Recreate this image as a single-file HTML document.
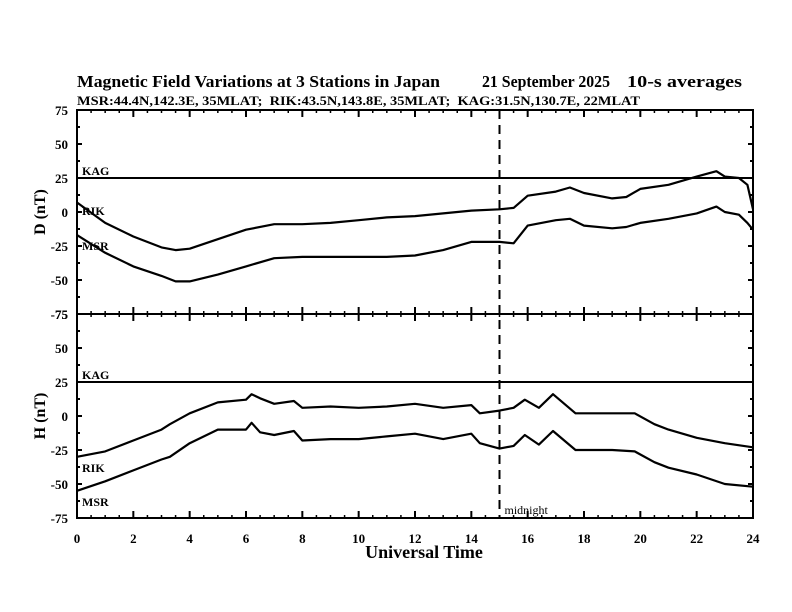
<!DOCTYPE html>
<html><head><meta charset="utf-8"><style>
body{margin:0;background:#fff}
svg{display:block;font-family:"Liberation Serif",serif}
</style></head><body>
<svg id="chart" width="792" height="612" viewBox="0 0 792 612">
<text x="77" y="87" font-size="17" font-weight="bold" textLength="363" lengthAdjust="spacingAndGlyphs">Magnetic Field Variations at 3 Stations in Japan</text>
<text x="482" y="87" font-size="17" font-weight="bold" textLength="128" lengthAdjust="spacingAndGlyphs">21 September 2025</text>
<text x="627" y="87" font-size="17" font-weight="bold" textLength="115" lengthAdjust="spacingAndGlyphs">10-s averages</text>
<text x="77" y="105" font-size="13" font-weight="bold" textLength="563" lengthAdjust="spacingAndGlyphs" style="white-space:pre">MSR:44.4N,142.3E, 35MLAT;  RIK:43.5N,143.8E, 35MLAT;  KAG:31.5N,130.7E, 22MLAT</text>
<g id="plots"></g>
<text x="424" y="558" font-size="18" font-weight="bold" text-anchor="middle">Universal Time</text>
</svg>
<script>
const hoursD=[0,1,2,3,3.5,4,5,6,7,8,9,10,11,12,13,14,15,15.5,16,17,17.5,18,19,19.5,20,21,22,22.7,23,23.5,23.8,24];
const dRIK=[7,-8,-18,-26,-28,-27,-20,-13,-9,-9,-8,-6,-4,-3,-1,1,2,3,12,15,18,14,10,11,17,20,26,30,26,25,20,2];
const dMSR=[-17,-30,-40,-47,-51,-51,-46,-40,-34,-33,-33,-33,-33,-32,-28,-22,-22,-23,-10,-6,-5,-10,-12,-11,-8,-5,-1,4,0,-2,-8,-13];
const hoursH=[0,1,2,3,3.3,4,5,6,6.2,6.5,7,7.7,8,9,10,11,12,13,14,14.3,15,15.5,15.9,16.4,16.9,17.7,18,19,19.8,20.5,21,22,23,24];
const hRIK=[-30,-26,-18,-10,-6,2,10,12,16,13,9,11,6,7,6,7,9,6,8,2,4,6,12,6,16,2,2,2,2,-6,-10,-16,-20,-23];
const hMSR=[-55,-48,-40,-32,-30,-20,-10,-10,-5,-12,-14,-11,-18,-17,-17,-15,-13,-17,-13,-20,-24,-22,-14,-21,-11,-25,-25,-25,-26,-34,-38,-43,-50,-52];
const kagLevel=25;
const xTicks=[0,2,4,6,8,10,12,14,16,18,20,22,24];
const yTicks=[75,50,25,0,-25,-50,-75];
const midnightHour=15;

const NS="http://www.w3.org/2000/svg";
const g=document.getElementById('plots');
const X0=77,X1=753;
const xs=h=>X0+(X1-X0)*h/24;
function mk(t,a,p){const e=document.createElementNS(NS,t);for(const k in a)e.setAttribute(k,a[k]);(p||g).appendChild(e);return e;}
function panel(top,bot,label,hrs,rik,msr,name,kagY,rikLab,msrLab){
  const ys=v=>top+(75-v)/150*(bot-top);
  const pg=mk('g',{});
  
  
  const fr=mk('rect',{x:X0,y:top,width:X1-X0,height:bot-top,fill:'none',stroke:'#000','stroke-width':2},pg);
  
  
  for(let h=0;h<=24;h+=0.5){
    const maj=h%2===0;const L=maj?7:3;
    mk('line',{x1:xs(h),x2:xs(h),y1:top,y2:top+L,stroke:'#000','stroke-width':maj?2:1.5},pg);
    mk('line',{x1:xs(h),x2:xs(h),y1:bot,y2:bot-L,stroke:'#000','stroke-width':maj?2:1.5},pg);
  }
  for(let v=-75;v<=75;v+=12.5){
    const maj=v%25===0;const L=maj?5:3;
    mk('line',{x1:X0,x2:X0+L,y1:ys(v),y2:ys(v),stroke:'#000','stroke-width':2},pg);
    mk('line',{x1:X1,x2:X1-L,y1:ys(v),y2:ys(v),stroke:'#000','stroke-width':2},pg);
  }
  yTicks.forEach(v=>{
    const t=mk('text',{x:X0-9,y:ys(v)+5,'font-size':13,'font-weight':'bold','text-anchor':'end'},pg);
    t.textContent=v;
    
    
  });
  const yl=mk('text',{x:0,y:0,'font-size':16,'font-weight':'bold','text-anchor':'middle',transform:`translate(45,${(top+bot)/2}) rotate(-90)`},pg);
  yl.textContent=label;
  
  
  const kl=mk('line',{x1:X0,x2:X1,y1:ys(kagLevel),y2:ys(kagLevel),stroke:'#000','stroke-width':2},pg);
  
  
  [[rik,'rik'],[msr,'msr']].forEach(([arr,n])=>{
    const d=hrs.map((h,i)=>(i?'L':'M')+xs(h).toFixed(1)+','+ys(arr[i]).toFixed(1)).join(' ');
    const p=mk('path',{d:d,fill:'none',stroke:'#000','stroke-width':2.2,'stroke-linejoin':'round'},pg);
    
    
  });
  [['KAG',ys(kagLevel)-3],['RIK',rikLab],['MSR',msrLab]].forEach(([s,y])=>{
    const t=mk('text',{x:X0+5,y:y,'font-size':12,'font-weight':'bold'},pg);
    t.textContent=s;
    
    
  });
}
panel(110,314,'D (nT)',hoursD,dRIK,dMSR,'d',0,215,250);
panel(314,518,'H (nT)',hoursH,hRIK,hMSR,'h',0,472,506);
xTicks.forEach(h=>{
  const t=mk('text',{x:xs(h),y:543,'font-size':13,'font-weight':'bold','text-anchor':'middle'});
  t.textContent=h;
  
  
});
const ml=mk('line',{x1:xs(midnightHour),x2:xs(midnightHour),y1:110,y2:518,stroke:'#000','stroke-width':2,'stroke-dasharray':'9,6'});


const mt=mk('text',{x:xs(midnightHour)+5,y:514,'font-size':12});
mt.textContent='midnight';


</script>
</body></html>
